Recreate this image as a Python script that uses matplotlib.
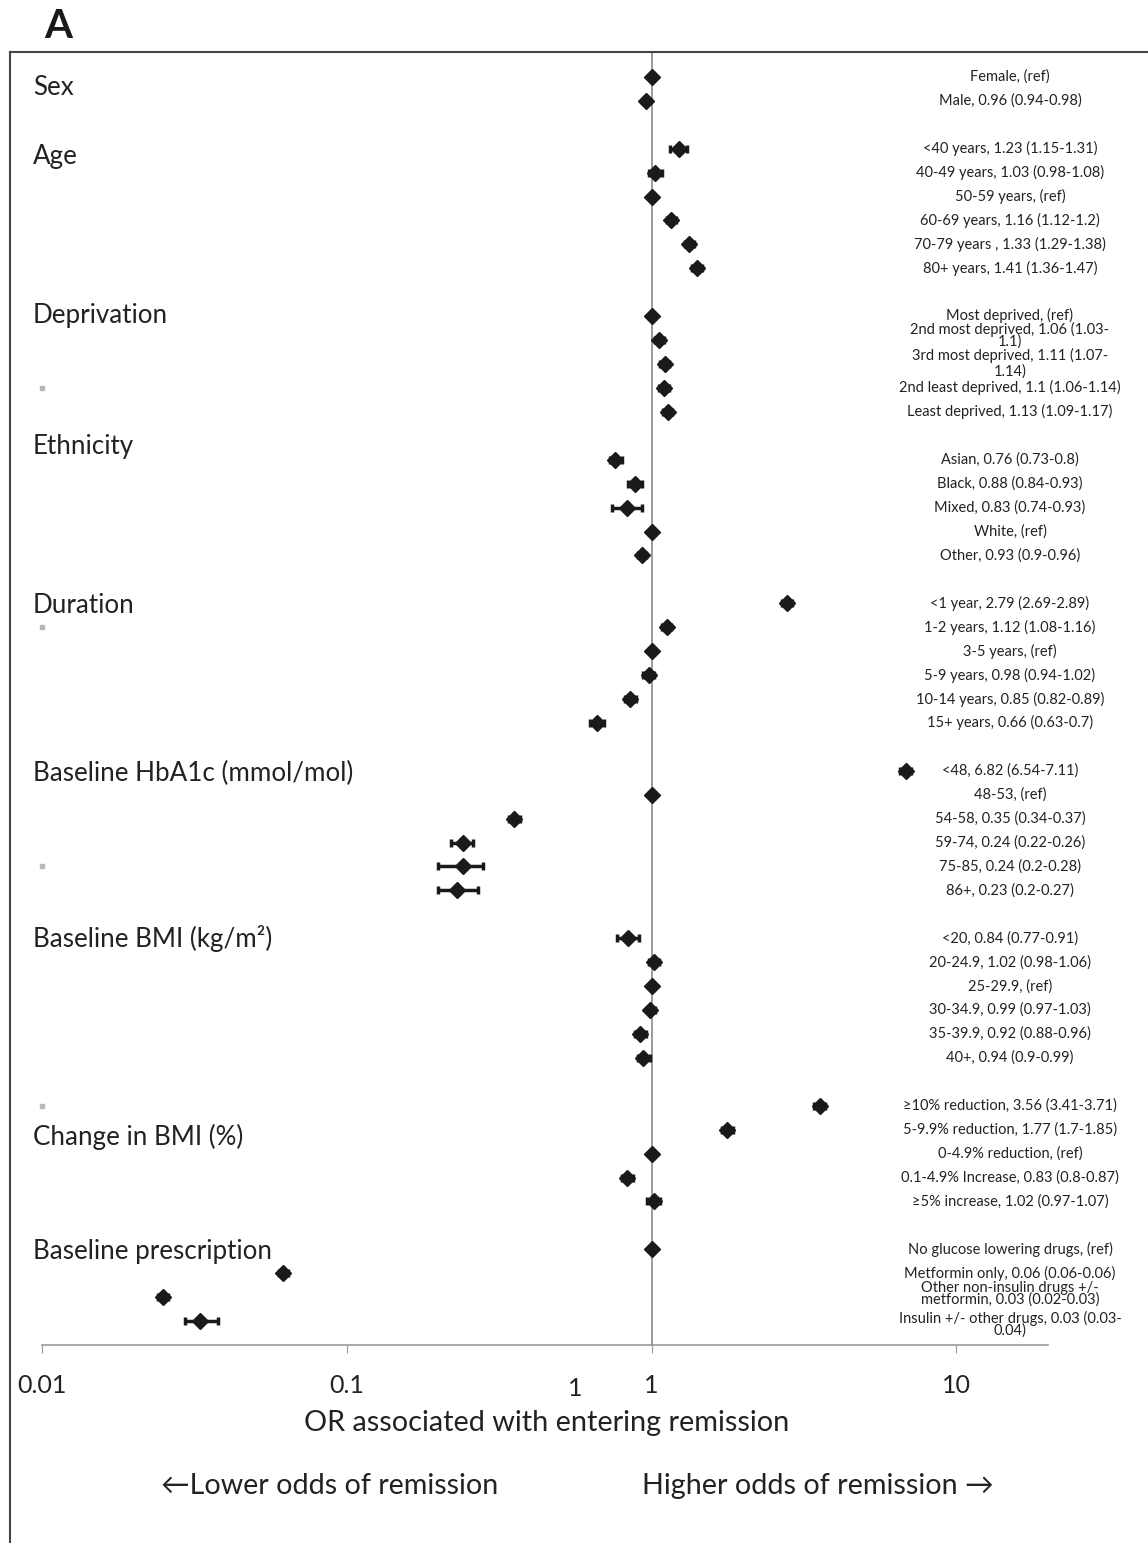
import matplotlib
matplotlib.use('Agg')
import matplotlib.pyplot as plt
from matplotlib.lines import Line2D
from matplotlib.transforms import blended_transform_factory

plt.rcParams['font.family'] = ['Lato', 'DejaVu Sans']

W, H = 1148, 1543

group_names = ['Sex', 'Age', 'Deprivation', 'Ethnicity', 'Duration',
               'Baseline HbA1c (mmol/mol)', 'Baseline BMI (kg/m²)',
               'Change in BMI (%)', 'Baseline prescription']
group_sizes = [2, 6, 5, 5, 6, 6, 6, 5, 4]

row_labels = [
    'Female, (ref)', 'Male, 0.96 (0.94-0.98)',
    '<40 years, 1.23 (1.15-1.31)', '40-49 years, 1.03 (0.98-1.08)',
    '50-59 years, (ref)', '60-69 years, 1.16 (1.12-1.2)',
    '70-79 years , 1.33 (1.29-1.38)', '80+ years, 1.41 (1.36-1.47)',
    'Most deprived, (ref)', '2nd most deprived, 1.06 (1.03-\n1.1)',
    '3rd most deprived, 1.11 (1.07-\n1.14)', '2nd least deprived, 1.1 (1.06-1.14)',
    'Least deprived, 1.13 (1.09-1.17)',
    'Asian, 0.76 (0.73-0.8)', 'Black, 0.88 (0.84-0.93)', 'Mixed, 0.83 (0.74-0.93)',
    'White, (ref)', 'Other, 0.93 (0.9-0.96)',
    '<1 year, 2.79 (2.69-2.89)', '1-2 years, 1.12 (1.08-1.16)', '3-5 years, (ref)',
    '5-9 years, 0.98 (0.94-1.02)', '10-14 years, 0.85 (0.82-0.89)',
    '15+ years, 0.66 (0.63-0.7)',
    '<48, 6.82 (6.54-7.11)', '48-53, (ref)', '54-58, 0.35 (0.34-0.37)',
    '59-74, 0.24 (0.22-0.26)', '75-85, 0.24 (0.2-0.28)', '86+, 0.23 (0.2-0.27)',
    '<20, 0.84 (0.77-0.91)', '20-24.9, 1.02 (0.98-1.06)', '25-29.9, (ref)',
    '30-34.9, 0.99 (0.97-1.03)', '35-39.9, 0.92 (0.88-0.96)', '40+, 0.94 (0.9-0.99)',
    '≥10% reduction, 3.56 (3.41-3.71)', '5-9.9% reduction, 1.77 (1.7-1.85)',
    '0-4.9% reduction, (ref)', '0.1-4.9% Increase, 0.83 (0.8-0.87)',
    '≥5% increase, 1.02 (0.97-1.07)',
    'No glucose lowering drugs, (ref)', 'Metformin only, 0.06 (0.06-0.06)',
    'Other non-insulin drugs +/-\nmetformin, 0.03 (0.02-0.03)',
    'Insulin +/- other drugs, 0.03 (0.03-\n0.04)',
]

odds_ratio = [1, 0.96,
              1.23, 1.03, 1, 1.16, 1.33, 1.41,
              1, 1.06, 1.11, 1.1, 1.13,
              0.76, 0.88, 0.83, 1, 0.93,
              2.79, 1.12, 1, 0.98, 0.85, 0.66,
              6.82, 1, 0.355, 0.24, 0.24, 0.23,
              0.84, 1.02, 1, 0.99, 0.92, 0.94,
              3.56, 1.77, 1, 0.83, 1.02,
              1, 0.062, 0.025, 0.033]
ci_low = [1, 0.94,
          1.15, 0.98, 1, 1.12, 1.29, 1.36,
          1, 1.03, 1.07, 1.06, 1.09,
          0.73, 0.84, 0.74, 1, 0.9,
          2.69, 1.08, 1, 0.94, 0.82, 0.63,
          6.54, 1, 0.34, 0.22, 0.2, 0.2,
          0.77, 0.98, 1, 0.97, 0.88, 0.9,
          3.41, 1.7, 1, 0.8, 0.97,
          1, 0.06, 0.024, 0.0294]
ci_high = [1, 0.98,
           1.31, 1.08, 1, 1.2, 1.38, 1.47,
           1, 1.1, 1.14, 1.14, 1.17,
           0.8, 0.93, 0.93, 1, 0.96,
           2.89, 1.16, 1, 1.02, 0.89, 0.7,
           7.11, 1, 0.37, 0.26, 0.28, 0.27,
           0.91, 1.06, 1, 1.03, 0.96, 0.99,
           3.71, 1.85, 1, 0.87, 1.07,
           1, 0.064, 0.026, 0.0378]

# where each group title sits (in row units) and small label nudges
group_label_rows = [0.46, 3.34, 9.97, 15.44, 22.1, 29.1, 36.0, 44.3, 49.1]
label_nudge = {8: (-0.05, 1.0), 9: (-0.2, 0.76), 10: (-0.02, 1.15),
               43: (-0.15, 0.78), 44: (0.15, 0.78)}
stray_rows = [13, 23, 33, 43]

# row positions with a blank row between groups
rows = []
r = 0
for n in group_sizes:
    rows.extend(range(r, r + n))
    r += n + 1

fig = plt.figure(figsize=(W / 100, H / 100), dpi=100)
ax = fig.add_axes([42 / W, 1 - 1345 / H, (1048 - 42) / W, (1345 - 53) / H])

ax.axvline(1, color='#8a8a8a', lw=1.2, zorder=1)

xerr = [[o - lo for o, lo in zip(odds_ratio, ci_low)],
        [hi - o for o, hi in zip(odds_ratio, ci_high)]]
ax.errorbar(odds_ratio, rows, xerr=xerr, fmt='D', color='#1a1a1a', ms=8.6,
            ecolor='#1a1a1a', elinewidth=2.5, capsize=3, capthick=2.5, zorder=3)

ax.plot([0.01] * len(stray_rows), stray_rows, 's', ms=2.2, color='#b8b8b8',
        clip_on=False, zorder=2)

ax.set_xscale('log')
ax.set_xlim(0.01, 20)
ax.set_ylim(53, -1)
ax.set_xticks([0.01, 0.1, 1, 10])
ax.set_xticklabels(['0.01', '0.1', '1', '10'])
ax.minorticks_off()
ax.set_yticks([])
ax.tick_params(axis='x', length=6, color='#999999', labelsize=18, pad=15,
               labelcolor='#222222')
for side in ['top', 'right', 'left']:
    ax.spines[side].set_visible(False)
ax.spines['bottom'].set_color('#999999')
ax.spines['bottom'].set_linewidth(1.2)

# right-hand labels
lab_tr = blended_transform_factory(ax.transAxes, ax.transData)
for i, (lab, y) in enumerate(zip(row_labels, rows)):
    dy, ls = label_nudge.get(i, (0, 1.0))
    ax.text((1010 - 42) / 1006, y + dy, lab, transform=lab_tr, ha='center',
            va='center', fontsize=10.5, color='#222222', linespacing=ls)

# group titles on the left
grp_tr = blended_transform_factory(fig.transFigure, ax.transData)
for name, y in zip(group_names, group_label_rows):
    ax.text(33 / W, y, name, transform=grp_tr, ha='left', va='center',
            fontsize=18.7, color='#222222')

fig.text(575 / W, 1 - 1388 / H, '1', ha='center', va='center', fontsize=18,
         color='#222222')
fig.text(547 / W, 1 - 1423 / H, 'OR associated with entering remission',
         ha='center', va='center', fontsize=20.8, color='#222222')
fig.text(330 / W, 1 - 1486 / H, '←Lower odds of remission',
         ha='center', va='center', fontsize=20.6, color='#222222')
fig.text(818 / W, 1 - 1486 / H, 'Higher odds of remission →',
         ha='center', va='center', fontsize=20.7, color='#222222')

fig.text(44 / W, 1 - 27 / H, 'A', ha='left', va='center', fontsize=29,
         fontweight='bold', color='#1a1a1a')

# panel frame (left and top edges only)
fig.add_artist(Line2D([10 / W, 10 / W], [1 - 52 / H, 0], transform=fig.transFigure,
                      color='#444444', lw=1.5))
fig.add_artist(Line2D([10 / W, 1], [1 - 52 / H, 1 - 52 / H], transform=fig.transFigure,
                      color='#444444', lw=1.5))

fig.savefig('out.png', dpi=100)
